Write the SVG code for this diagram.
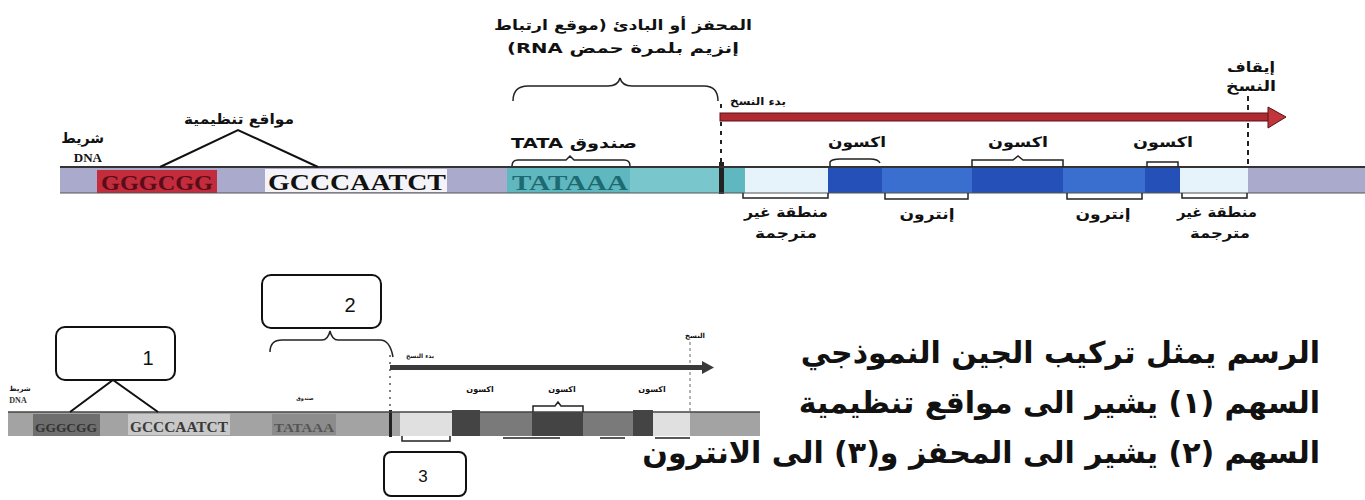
<svg xmlns="http://www.w3.org/2000/svg" width="1365" height="500" viewBox="0 0 1365 500">
<style>
.ar{font-family:"DejaVu Sans",sans-serif;font-weight:bold;fill:#111;}
.lbl{font-size:14px;}
.seq{font-family:"Liberation Serif",serif;font-weight:bold;}
.ln{fill:none;stroke:#111;stroke-width:2;}
.br{fill:none;stroke:#222;stroke-width:1.5;}
.box{fill:#fff;stroke:#111;stroke-width:2;}
.main{font-size:30px;}
</style>
<rect width="1365" height="500" fill="#fff"/>

<!-- ===== TOP DIAGRAM ===== -->
<g id="top-bar">
  <rect x="60" y="167" width="1305" height="26" fill="#aaaacc"/>
  <rect x="97" y="170" width="120" height="23" fill="#c22c3c"/>
  <text class="seq" x="157" y="190" font-size="21" text-anchor="middle" fill="#5a0d18" textLength="112" lengthAdjust="spacingAndGlyphs">GGGCGG</text>
  <rect x="265" y="169" width="182" height="23" fill="#f4f4f8"/>
  <text class="seq" x="357" y="190" font-size="24" text-anchor="middle" fill="#111" textLength="178" lengthAdjust="spacingAndGlyphs">GCCCAATCT</text>
  <rect x="507" y="167" width="213" height="26" fill="#5fb7bf"/>
  <rect x="630" y="167" width="90" height="26" fill="#79c6cc"/>
  <text class="seq" x="570" y="190" font-size="22" text-anchor="middle" fill="#1e6a72" textLength="116" lengthAdjust="spacingAndGlyphs">TATAAA</text>
  <rect x="719" y="162" width="5" height="32" fill="#222"/>
  <rect x="724" y="167" width="21" height="26" fill="#5fb7bf"/>
  <rect x="745" y="167" width="83" height="26" fill="#e6f3fa"/>
  <rect x="828" y="167" width="54" height="26" fill="#2450b8"/>
  <rect x="882" y="167" width="90" height="26" fill="#3a6fd0"/>
  <rect x="972" y="167" width="91" height="26" fill="#2450b8"/>
  <rect x="1063" y="167" width="82" height="26" fill="#3a6fd0"/>
  <rect x="1145" y="167" width="35" height="26" fill="#2450b8"/>
  <rect x="1180" y="167" width="68" height="26" fill="#e6f3fa"/>
  <line x1="60" y1="167" x2="1365" y2="167" stroke="#333" stroke-width="2"/>
  <line x1="60" y1="193" x2="1365" y2="193" stroke="#555" stroke-width="1"/>
</g>

<g id="top-dna-label">
  <text class="ar lbl" x="104" y="143" text-anchor="end">شريط</text>
  <text class="seq" x="102" y="162" font-size="13" text-anchor="end" fill="#111">DNA</text>
</g>

<g id="top-regulatory">
  <text class="ar lbl" x="239" y="124" text-anchor="middle" direction="rtl" textLength="110" lengthAdjust="spacingAndGlyphs">مواقع تنظيمية</text>
</g>

<g id="top-promoter">
  <text class="ar lbl" x="623" y="30" text-anchor="middle" direction="rtl" textLength="258" lengthAdjust="spacingAndGlyphs">المحفز أو البادئ (موقع ارتباط</text>
  <text class="ar lbl" x="623" y="53" text-anchor="middle" direction="rtl" textLength="232" lengthAdjust="spacingAndGlyphs">إنزيم بلمرة حمض RNA)</text>
</g>

<g id="top-tata">
  <text class="ar lbl" x="574" y="148" text-anchor="middle" direction="rtl" textLength="126" lengthAdjust="spacingAndGlyphs">صندوق TATA</text>
</g>

<g id="top-start">
  <text class="ar" font-size="11" x="758" y="105" text-anchor="middle" direction="rtl" textLength="56" lengthAdjust="spacingAndGlyphs">بدء النسخ</text>
</g>

<g id="top-stop">
  <text class="ar lbl" x="1251" y="72" text-anchor="middle" direction="rtl" textLength="48" lengthAdjust="spacingAndGlyphs">إيقاف</text>
  <text class="ar lbl" x="1251" y="91" text-anchor="middle" direction="rtl" textLength="50" lengthAdjust="spacingAndGlyphs">النسخ</text>
</g>

<g id="top-exons">
  <text class="ar lbl" x="857" y="147" text-anchor="middle" direction="rtl" textLength="58" lengthAdjust="spacingAndGlyphs">اكسون</text>
  <text class="ar lbl" x="1018" y="147" text-anchor="middle" direction="rtl" textLength="60" lengthAdjust="spacingAndGlyphs">اكسون</text>
  <text class="ar lbl" x="1163" y="147" text-anchor="middle" direction="rtl" textLength="60" lengthAdjust="spacingAndGlyphs">اكسون</text>
</g>

<g id="top-introns">
  <text class="ar lbl" x="927" y="219" text-anchor="middle" direction="rtl" textLength="55" lengthAdjust="spacingAndGlyphs">إنترون</text>
  <text class="ar lbl" x="1103" y="219" text-anchor="middle" direction="rtl" textLength="55" lengthAdjust="spacingAndGlyphs">إنترون</text>
</g>

<g id="top-utr">
  <text class="ar lbl" x="786" y="217" text-anchor="middle" direction="rtl" textLength="84" lengthAdjust="spacingAndGlyphs">منطقة غير</text>
  <text class="ar lbl" x="786" y="238" text-anchor="middle" direction="rtl" textLength="62" lengthAdjust="spacingAndGlyphs">مترجمة</text>
  <text class="ar lbl" x="1217" y="217" text-anchor="middle" direction="rtl" textLength="80" lengthAdjust="spacingAndGlyphs">منطقة غير</text>
  <text class="ar lbl" x="1220" y="238" text-anchor="middle" direction="rtl" textLength="60" lengthAdjust="spacingAndGlyphs">مترجمة</text>
</g>

<g id="top-connectors">
  <polyline class="ln" points="160,167 238,130 318,167"/>
  <path class="br" stroke-width="2" d="M513,101 Q513,86 528,86 L608,86 Q618,86 620,78 Q622,86 632,86 L704,86 Q718,86 718,101"/>
  <path class="br" d="M512,166 Q512,160 518,160 L566,160 L570,156 L574,160 L624,160 Q630,160 630,166"/>
  <line x1="721" y1="104" x2="721" y2="167" stroke="#222" stroke-width="2" stroke-dasharray="4,5"/>
  <line x1="1248" y1="96" x2="1248" y2="167" stroke="#222" stroke-width="2" stroke-dasharray="5,4"/>
  <rect x="720" y="113" width="552" height="8" fill="#b02a32" stroke="#5a1015" stroke-width="1"/>
  <polygon points="1268,107 1286,117 1268,128" fill="#c0363c" stroke="#5a1015" stroke-width="1"/>
  <path class="br" d="M830,167 L830,162 Q832,159 840,159 L870,159 Q878,159 880,163"/>
  <path class="br" d="M972,167 L972,160 L1013,160 L1018,156 L1023,160 L1063,160 L1063,167"/>
  <path class="br" d="M1147,167 L1147,162 L1178,162 L1178,167"/>
  <path class="br" d="M743,193 L743,198 L828,198 L828,193"/>
  <path class="br" d="M885,193 L885,199 L968,199 L968,193"/>
  <path class="br" d="M1067,193 L1067,199 L1142,199 L1142,193"/>
  <path class="br" d="M1182,193 L1182,198 L1247,198 L1247,193"/>
</g>

<!-- ===== BOTTOM DIAGRAM ===== -->
<g id="bottom-bar">
  <rect x="8" y="412" width="752" height="24" fill="#a3a3a3"/>
  <rect x="33" y="414" width="67" height="22" fill="#6e6e6e"/>
  <text class="seq" x="66" y="432" font-size="13" text-anchor="middle" fill="#333" textLength="62" lengthAdjust="spacingAndGlyphs">GGGCGG</text>
  <rect x="128" y="414" width="102" height="21" fill="#c8c8c8"/>
  <text class="seq" x="179" y="432" font-size="14" text-anchor="middle" fill="#3a3a3a" textLength="98" lengthAdjust="spacingAndGlyphs">GCCCAATCT</text>
  <rect x="272" y="414" width="64" height="21" fill="#8c8c8c"/>
  <text class="seq" x="304" y="432" font-size="13" text-anchor="middle" fill="#555" textLength="60" lengthAdjust="spacingAndGlyphs">TATAAA</text>
  <rect x="389" y="410" width="3" height="27" fill="#222"/>
  <rect x="400" y="412" width="52" height="24" fill="#e0e0e0"/>
  <rect x="452" y="410" width="28" height="26" fill="#444"/>
  <rect x="480" y="412" width="52" height="24" fill="#7a7a7a"/>
  <rect x="532" y="412" width="51" height="24" fill="#444"/>
  <rect x="583" y="412" width="50" height="24" fill="#7a7a7a"/>
  <rect x="633" y="410" width="20" height="26" fill="#444"/>
  <rect x="653" y="412" width="37" height="24" fill="#e0e0e0"/>
  <line x1="8" y1="412" x2="760" y2="412" stroke="#444" stroke-width="1.5"/>
</g>

<g id="bottom-labels">
  <text class="ar" font-size="7" x="20" y="391" text-anchor="middle" direction="rtl">شريط</text>
  <text class="seq" font-size="8" x="18" y="403" text-anchor="middle" fill="#333">DNA</text>
  <text class="ar" font-size="6" fill="#555" x="420" y="358" text-anchor="middle" direction="rtl">بدء النسخ</text>
  <text class="ar" font-size="7" fill="#444" x="695" y="338" text-anchor="middle" direction="rtl">النسخ</text>
  <text class="ar" font-size="8" fill="#333" x="480" y="392" text-anchor="middle" direction="rtl">اكسون</text>
  <text class="ar" font-size="8" fill="#333" x="562" y="392" text-anchor="middle" direction="rtl">اكسون</text>
  <text class="ar" font-size="8" fill="#333" x="652" y="392" text-anchor="middle" direction="rtl">اكسون</text>
  <text class="ar" font-size="5" fill="#888" x="305" y="400" text-anchor="middle" direction="rtl">صندوق</text>
</g>

<g id="box1">
  <rect class="box" x="56" y="327" width="119" height="53" rx="9"/>
  <text x="148" y="365" font-family="Liberation Sans, sans-serif" font-size="20" text-anchor="middle" fill="#111">1</text>
</g>
<g id="box2">
  <rect class="box" x="262" y="275" width="119" height="53" rx="9"/>
  <text x="350" y="312" font-family="Liberation Sans, sans-serif" font-size="20" text-anchor="middle" fill="#111">2</text>
</g>
<g id="box3">
  <rect class="box" stroke-width="3" x="384" y="452" width="82" height="44" rx="7"/>
  <text x="423" y="482" font-family="Liberation Sans, sans-serif" font-size="17" text-anchor="middle" fill="#111">3</text>
</g>

<g id="bottom-connectors">
  <polyline class="ln" points="70,412 113,380 158,412"/>
  <path class="br" d="M270,352 Q270,340 282,340 L322,340 Q328,340 330,331 Q332,340 338,340 L380,340 Q390,340 393,357"/>
  <line x1="390" y1="355" x2="390" y2="410" stroke="#555" stroke-width="1.5" stroke-dasharray="2,5"/>
  <line x1="690" y1="342" x2="690" y2="411" stroke="#666" stroke-width="1" stroke-dasharray="3,3"/>
  <rect x="390" y="365" width="313" height="5" fill="#3a3a3a"/>
  <polygon points="702,361 714,367.5 702,374" fill="#3a3a3a"/>
  <path class="br" stroke="#555" d="M533,412 L533,406 L555,406 L558,402 L561,406 L583,406 L583,412"/>
  <path class="br" stroke="#555" d="M402,436 L402,441 L450,441 L450,436"/>
  <path class="br" stroke="#888" stroke-width="1" d="M503,438 L560,438 M600,438 L625,438 M655,438 L690,438"/>
</g>

<!-- ===== CAPTION ===== -->
<g id="caption">
  <text class="ar main" x="1320" y="363" direction="rtl" text-anchor="start">الرسم يمثل تركيب الجين النموذجي</text>
  <text class="ar main" x="1320" y="413" direction="rtl" text-anchor="start">السهم (١) يشير الى مواقع تنظيمية</text>
  <text class="ar main" x="1320" y="463" direction="rtl" text-anchor="start">السهم (٢) يشير الى المحفز و(٣) الى الانترون</text>
</g>
</svg>
